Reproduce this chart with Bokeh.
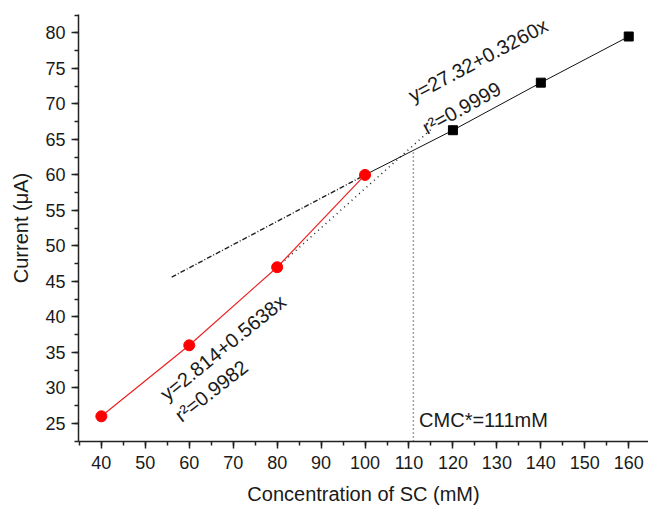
import numpy as np
from bokeh.plotting import figure
from bokeh.models import FixedTicker, ColumnDataSource
from bokeh.core.properties import value
from bokeh.embed import file_html
from bokeh.resources import INLINE

# ---- data ----
red_x = [40, 60, 80, 100]
red_y = [26.0, 36.0, 47.0, 60.0]
black_x = [100, 120, 140, 160]
black_y = [60.0, 66.3, 73.0, 79.5]
black_marker_x = [120, 140, 160]
black_marker_y = [66.3, 73.0, 79.5]

# extrapolated fit lines
dashdot_x = [56, 100]
dashdot_y = [45.6, 60.0]
dotted_x = [80, 115]
dotted_y = [47.0, 66.4]
cmc_x = [111, 111]
cmc_y = [22.45, 63.5]

x_major = list(range(40, 161, 10))
x_minor = list(range(35, 166, 5))
y_major = list(range(25, 81, 5))
y_minor = [22.5 + 2.5 * i for i in range(25)]

FONT = "Liberation Sans"
TXT = "#1a1a1a"

p = figure(width=648, height=509, x_range=(34.8, 164.5), y_range=(22.45, 82.6),
           output_backend="svg", toolbar_location=None,
           min_border_left=78, min_border_right=0, min_border_top=14, min_border_bottom=68)
p.outline_line_color = None
p.xgrid.visible = False
p.ygrid.visible = False
p.background_fill_color = "white"
p.border_fill_color = "white"

for ax, maj, mino in ((p.xaxis[0], x_major, x_minor), (p.yaxis[0], y_major, y_minor)):
    ax.ticker = FixedTicker(ticks=maj, minor_ticks=mino)
    ax.axis_line_width = 1.5
    ax.axis_line_color = "#222222"
    ax.major_tick_line_width = 1.5
    ax.minor_tick_line_width = 1.5
    ax.major_tick_line_color = "#222222"
    ax.minor_tick_line_color = "#222222"
    ax.major_tick_in = 0
    ax.minor_tick_in = 0
    ax.major_tick_out = 7
    ax.minor_tick_out = 4
    ax.major_label_text_font = FONT
    ax.major_label_text_font_size = "18px"
    ax.major_label_text_color = TXT
    ax.axis_label_text_font = FONT
    ax.axis_label_text_font_size = "20px"
    ax.axis_label_text_font_style = "normal"
    ax.axis_label_text_color = TXT

p.xaxis.axis_label = "Concentration of SC (mM)"
p.yaxis.axis_label = "Current (μA)"
p.xaxis.major_label_standoff = 7
p.yaxis.major_label_standoff = 6
p.xaxis.axis_label_standoff = 11
p.yaxis.axis_label_standoff = 10

# extrapolation lines
p.line(dashdot_x, dashdot_y, line_color="#222222", line_width=1.4, line_dash="5 2 1 2")
p.line(dotted_x, dotted_y, line_color="#222222", line_width=1.5, line_dash="1 4")
p.line(cmc_x, cmc_y, line_color="#444444", line_width=1.5, line_dash="1 3")

# data lines
p.line(black_x, black_y, line_color="#111111", line_width=1)
p.scatter(black_marker_x, black_marker_y, marker="square", size=9, fill_color="black", line_color="black")
p.line(red_x, red_y, line_color="#ee2222", line_width=1.2)
p.scatter(red_x, red_y, marker="circle", size=11, fill_color="#ff0000", line_color="#ff0000")

# annotations
ann = ColumnDataSource(dict(
    x=[110.2, 113.4, 54.0, 57.3],
    y=[71.05, 66.5, 28.8, 25.84],
    t=["y=27.32+0.3260x", "r²=0.9999", "y=2.814+0.5638x", "r²=0.9982"],
    a=[np.deg2rad(28), np.deg2rad(29), np.deg2rad(39), np.deg2rad(38)],
))
p.text(x="x", y="y", text="t", angle="a", source=ann, text_font=value(FONT),
       text_font_size="20px", text_color=TXT, text_baseline="alphabetic", text_align="left")
p.text(x=[112.3], y=[25.42], text=["CMC*=111mM"], text_font=value(FONT),
       text_font_size="20px", text_color=TXT, text_baseline="alphabetic", text_align="left")

open("out.html", "w").write(file_html(p, INLINE))
